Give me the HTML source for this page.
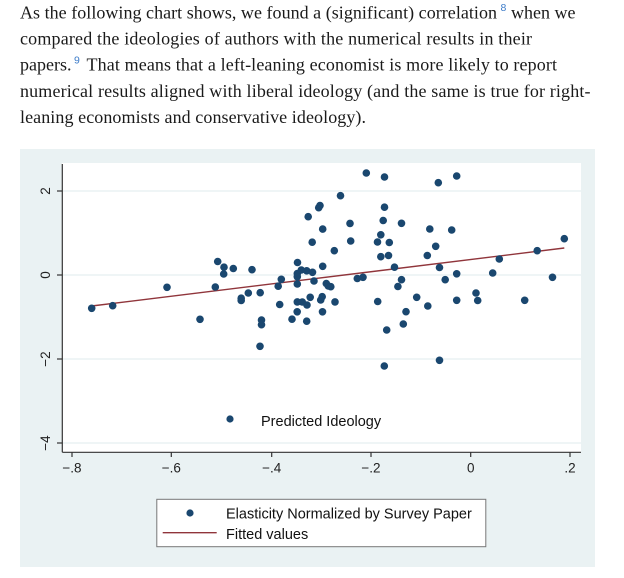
<!DOCTYPE html>
<html>
<head>
<meta charset="utf-8">
<style>
  html, body { margin: 0; padding: 0; background: #ffffff; }
  body { width: 624px; height: 578px; overflow: hidden; }
  svg { display: block; }
  .p { font-family: "Liberation Serif", serif; font-size: 18px; fill: #1a1a1a; }
  .sup { font-family: "Liberation Sans", sans-serif; font-size: 10.5px; fill: #3d7cc9; }
  .tick { font-family: "Liberation Sans", sans-serif; font-size: 13.5px; fill: #222; }
  .leg { font-family: "Liberation Sans", sans-serif; font-size: 14.5px; fill: #111; }
</style>
</head>
<body>
<svg width="624" height="578" viewBox="0 0 624 578" xmlns="http://www.w3.org/2000/svg">
  <!-- paragraph -->
  <text class="p" x="20" y="18.5" textLength="477" lengthAdjust="spacing">As the following chart shows, we found a (significant) correlation</text>
  <text class="sup" x="500.5" y="11">8</text>
  <text class="p" x="511" y="18.5">when we</text>
  <text class="p" x="20" y="44.6" textLength="512" lengthAdjust="spacing">compared the ideologies of authors with the numerical results in their</text>
  <text class="p" x="20" y="70.7">papers.</text>
  <text class="sup" x="74" y="63.5">9</text>
  <text class="p" x="86.5" y="70.7" textLength="470.5" lengthAdjust="spacing">That means that a left-leaning economist is more likely to report</text>
  <text class="p" x="20" y="96.8" textLength="570.5" lengthAdjust="spacing">numerical results aligned with liberal ideology (and the same is true for right-</text>
  <text class="p" x="20" y="122.9" textLength="346" lengthAdjust="spacing">leaning economists and conservative ideology).</text>

  <!-- chart panel -->
  <rect x="20" y="149" width="575" height="418" fill="#eaf2f3"/>
  <rect x="62" y="163" width="519" height="289" fill="#ffffff"/>

  <!-- gridlines -->
  <g stroke="#eaf2f3" stroke-width="1.6">
    <line x1="62" y1="191" x2="581" y2="191"/>
    <line x1="62" y1="275" x2="581" y2="275"/>
    <line x1="62" y1="359" x2="581" y2="359"/>
    <line x1="62" y1="443" x2="581" y2="443"/>
  </g>

  <!-- axes -->
  <g stroke="#333" stroke-width="1.2">
    <line x1="62.3" y1="164" x2="62.3" y2="452.3"/>
    <line x1="62.3" y1="452.3" x2="581" y2="452.3"/>
    <line x1="57" y1="191" x2="62.3" y2="191"/>
    <line x1="57" y1="275" x2="62.3" y2="275"/>
    <line x1="57" y1="359" x2="62.3" y2="359"/>
    <line x1="57" y1="443" x2="62.3" y2="443"/>
    <line x1="72" y1="452.3" x2="72" y2="457"/>
    <line x1="171.3" y1="452.3" x2="171.3" y2="457"/>
    <line x1="271.7" y1="452.3" x2="271.7" y2="457"/>
    <line x1="371" y1="452.3" x2="371" y2="457"/>
    <line x1="470.7" y1="452.3" x2="470.7" y2="457"/>
    <line x1="570" y1="452.3" x2="570" y2="457"/>
  </g>

  <!-- y tick labels -->
  <text class="tick" text-anchor="middle" transform="translate(50,191) rotate(-90)">2</text>
  <text class="tick" text-anchor="middle" transform="translate(50,275) rotate(-90)">0</text>
  <text class="tick" text-anchor="middle" transform="translate(50,359) rotate(-90)">−2</text>
  <text class="tick" text-anchor="middle" transform="translate(50,443) rotate(-90)">−4</text>

  <!-- x tick labels -->
  <text class="tick" text-anchor="middle" x="72" y="472.3">−.8</text>
  <text class="tick" text-anchor="middle" x="171.3" y="472.3">−.6</text>
  <text class="tick" text-anchor="middle" x="271.7" y="472.3">−.4</text>
  <text class="tick" text-anchor="middle" x="371" y="472.3">−.2</text>
  <text class="tick" text-anchor="middle" x="470.7" y="472.3">0</text>
  <text class="tick" text-anchor="middle" x="570" y="472.3">.2</text>

  <!-- fitted line -->
  <line x1="91.7" y1="306" x2="564.3" y2="248" stroke="#90353b" stroke-width="1.4"/>

  <!-- scatter points -->
  <g fill="#1a476f">
    <circle cx="91.7" cy="308.3" r="3.8"/>
    <circle cx="112.7" cy="305.7" r="3.8"/>
    <circle cx="167" cy="287.3" r="3.8"/>
    <circle cx="200" cy="319.3" r="3.8"/>
    <circle cx="215.3" cy="287" r="3.8"/>
    <circle cx="217.7" cy="261.5" r="3.8"/>
    <circle cx="224" cy="267.2" r="3.8"/>
    <circle cx="223.7" cy="274" r="3.8"/>
    <circle cx="233.3" cy="268.5" r="3.8"/>
    <circle cx="252" cy="269.7" r="3.8"/>
    <circle cx="241.2" cy="298.2" r="3.8"/>
    <circle cx="241.2" cy="300.5" r="3.8"/>
    <circle cx="248.3" cy="293" r="3.8"/>
    <circle cx="260.2" cy="292.7" r="3.8"/>
    <circle cx="261.5" cy="320" r="3.8"/>
    <circle cx="261.5" cy="324.7" r="3.8"/>
    <circle cx="260" cy="346.3" r="3.8"/>
    <circle cx="278.2" cy="286.2" r="3.8"/>
    <circle cx="281.3" cy="279.3" r="3.8"/>
    <circle cx="279.7" cy="304.5" r="3.8"/>
    <circle cx="292" cy="319.2" r="3.8"/>
    <circle cx="297.2" cy="311.8" r="3.8"/>
    <circle cx="306.7" cy="321.2" r="3.8"/>
    <circle cx="297.5" cy="262.5" r="3.8"/>
    <circle cx="297.3" cy="273.5" r="3.8"/>
    <circle cx="297.3" cy="276.8" r="3.8"/>
    <circle cx="297.3" cy="284" r="3.8"/>
    <circle cx="301.3" cy="270" r="3.8"/>
    <circle cx="306.7" cy="270.8" r="3.8"/>
    <circle cx="312.5" cy="272.3" r="3.8"/>
    <circle cx="314" cy="281" r="3.8"/>
    <circle cx="297.3" cy="301.9" r="3.8"/>
    <circle cx="302.3" cy="302" r="3.8"/>
    <circle cx="307" cy="305" r="3.8"/>
    <circle cx="310.2" cy="297.3" r="3.8"/>
    <circle cx="320.7" cy="300" r="3.8"/>
    <circle cx="322.2" cy="296.7" r="3.8"/>
    <circle cx="322.5" cy="311.8" r="3.8"/>
    <circle cx="322.7" cy="266.3" r="3.8"/>
    <circle cx="326.3" cy="283.5" r="3.8"/>
    <circle cx="328.3" cy="286" r="3.8"/>
    <circle cx="330.8" cy="286.7" r="3.8"/>
    <circle cx="312.2" cy="242.2" r="3.8"/>
    <circle cx="308.2" cy="216.7" r="3.8"/>
    <circle cx="318.7" cy="207.7" r="3.8"/>
    <circle cx="320" cy="205.5" r="3.8"/>
    <circle cx="322.7" cy="229.1" r="3.8"/>

    <circle cx="366.3" cy="173" r="3.8"/>
    <circle cx="384.5" cy="177" r="3.8"/>
    <circle cx="438.3" cy="182.7" r="3.8"/>
    <circle cx="456.7" cy="176" r="3.8"/>
    <circle cx="340.5" cy="195.7" r="3.8"/>
    <circle cx="384.5" cy="207.2" r="3.8"/>
    <circle cx="383.2" cy="220.5" r="3.8"/>
    <circle cx="350" cy="223.4" r="3.8"/>
    <circle cx="401.5" cy="223.3" r="3.8"/>
    <circle cx="429.8" cy="229" r="3.8"/>
    <circle cx="451.7" cy="230" r="3.8"/>
    <circle cx="380.8" cy="234.8" r="3.8"/>
    <circle cx="350.7" cy="241" r="3.8"/>
    <circle cx="377.5" cy="242" r="3.8"/>
    <circle cx="389.3" cy="242.5" r="3.8"/>
    <circle cx="334.3" cy="250.7" r="3.8"/>
    <circle cx="435.7" cy="246.3" r="3.8"/>
    <circle cx="380.8" cy="256.7" r="3.8"/>
    <circle cx="388.5" cy="255.5" r="3.8"/>
    <circle cx="427.3" cy="255.5" r="3.8"/>
    <circle cx="394.5" cy="267.2" r="3.8"/>
    <circle cx="439.5" cy="267.5" r="3.8"/>
    <circle cx="456.7" cy="273.8" r="3.8"/>
    <circle cx="357.3" cy="278.5" r="3.8"/>
    <circle cx="363" cy="277.3" r="3.8"/>
    <circle cx="401.5" cy="279.7" r="3.8"/>
    <circle cx="397.9" cy="286.5" r="3.8"/>
    <circle cx="445.2" cy="279.7" r="3.8"/>
    <circle cx="335" cy="301.9" r="3.8"/>
    <circle cx="377.7" cy="301.5" r="3.8"/>
    <circle cx="416.7" cy="297.3" r="3.8"/>
    <circle cx="427.8" cy="306" r="3.8"/>
    <circle cx="406" cy="311.7" r="3.8"/>
    <circle cx="403.3" cy="324" r="3.8"/>
    <circle cx="386.7" cy="330" r="3.8"/>
    <circle cx="456.7" cy="300.3" r="3.8"/>
    <circle cx="384.3" cy="366" r="3.8"/>
    <circle cx="439.5" cy="360.3" r="3.8"/>

    <circle cx="564.3" cy="238.7" r="3.8"/>
    <circle cx="537.2" cy="250.7" r="3.8"/>
    <circle cx="499.3" cy="259" r="3.8"/>
    <circle cx="492.7" cy="273" r="3.8"/>
    <circle cx="552.5" cy="277.3" r="3.8"/>
    <circle cx="476" cy="293" r="3.8"/>
    <circle cx="477.7" cy="300.5" r="3.8"/>
    <circle cx="524.7" cy="300.3" r="3.8"/>

    <circle cx="230" cy="419" r="3.6"/>
  </g>

  <text class="leg" x="261" y="426">Predicted Ideology</text>

  <!-- legend -->
  <rect x="156.8" y="499.3" width="329" height="47.4" fill="#ffffff" stroke="#777" stroke-width="1"/>
  <circle cx="190" cy="513" r="3.6" fill="#1a476f"/>
  <line x1="162.7" y1="532.7" x2="216.7" y2="532.7" stroke="#90353b" stroke-width="1.4"/>
  <text class="leg" x="226" y="518.5">Elasticity Normalized by Survey Paper</text>
  <text class="leg" x="226" y="539">Fitted values</text>
</svg>
</body>
</html>
